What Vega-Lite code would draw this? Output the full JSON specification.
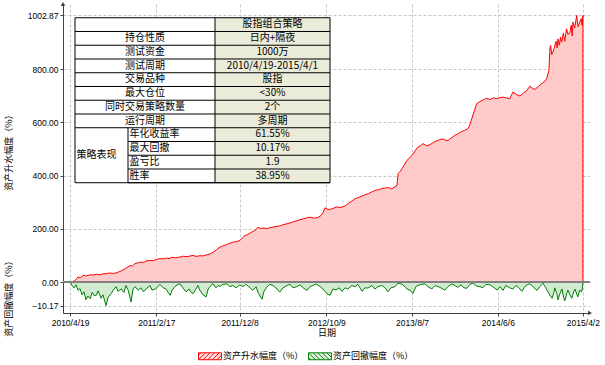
{
"$schema": "https://vega.github.io/schema/vega-lite/v6.json",
"padding": {"left": 3, "top": 2, "right": 5, "bottom": 3},
"background": "white",
"datasets": {
"up": [
{"d":"2010/04/19","v":0},{"d":"2010/04/27","v":1},{"d":"2010/05/06","v":5},{"d":"2010/05/17","v":19},{"d":"2010/05/25","v":16},{"d":"2010/06/04","v":25},{"d":"2010/06/16","v":23},{"d":"2010/06/28","v":27},{"d":"2010/07/08","v":26},{"d":"2010/07/20","v":29},{"d":"2010/08/02","v":27},{"d":"2010/08/14","v":31},{"d":"2010/08/24","v":31},{"d":"2010/09/06","v":34},{"d":"2010/09/16","v":32},{"d":"2010/09/28","v":34},{"d":"2010/10/08","v":38},{"d":"2010/10/19","v":43},{"d":"2010/10/30","v":50},{"d":"2010/11/08","v":56},{"d":"2010/11/17","v":62},{"d":"2010/11/25","v":60},{"d":"2010/12/04","v":69},{"d":"2010/12/15","v":72},{"d":"2010/12/25","v":75},{"d":"2011/01/04","v":74},{"d":"2011/01/12","v":79},{"d":"2011/01/24","v":81},{"d":"2011/02/05","v":80},{"d":"2011/02/17","v":84},{"d":"2011/02/28","v":88},{"d":"2011/03/13","v":87},{"d":"2011/03/25","v":90},{"d":"2011/04/04","v":88},{"d":"2011/04/14","v":93},{"d":"2011/04/26","v":91},{"d":"2011/05/12","v":94},{"d":"2011/05/24","v":97},{"d":"2011/06/05","v":95},{"d":"2011/06/17","v":98},{"d":"2011/06/27","v":100},{"d":"2011/07/08","v":96},{"d":"2011/07/21","v":99},{"d":"2011/08/01","v":98},{"d":"2011/08/13","v":102},{"d":"2011/08/26","v":106},{"d":"2011/09/06","v":112},{"d":"2011/09/18","v":122},{"d":"2011/09/30","v":131},{"d":"2011/10/11","v":136},{"d":"2011/10/23","v":141},{"d":"2011/11/04","v":146},{"d":"2011/11/16","v":150},{"d":"2011/11/28","v":152},{"d":"2011/12/09","v":156},{"d":"2011/12/18","v":166},{"d":"2011/12/27","v":175},{"d":"2012/01/05","v":178},{"d":"2012/01/14","v":184},{"d":"2012/01/24","v":190},{"d":"2012/02/03","v":196},{"d":"2012/02/11","v":206},{"d":"2012/02/20","v":201},{"d":"2012/03/03","v":203},{"d":"2012/03/14","v":200},{"d":"2012/03/25","v":205},{"d":"2012/04/06","v":207},{"d":"2012/04/18","v":209},{"d":"2012/04/30","v":212},{"d":"2012/05/12","v":216},{"d":"2012/05/23","v":219},{"d":"2012/06/03","v":222},{"d":"2012/06/15","v":227},{"d":"2012/06/27","v":230},{"d":"2012/07/08","v":234},{"d":"2012/07/19","v":237},{"d":"2012/07/31","v":241},{"d":"2012/08/12","v":244},{"d":"2012/08/24","v":240},{"d":"2012/09/09","v":242},{"d":"2012/09/20","v":250},{"d":"2012/09/28","v":262},{"d":"2012/10/04","v":279},{"d":"2012/10/11","v":274},{"d":"2012/10/20","v":272},{"d":"2012/11/02","v":277},{"d":"2012/11/15","v":282},{"d":"2012/11/29","v":280},{"d":"2012/12/14","v":286},{"d":"2012/12/26","v":296},{"d":"2013/01/08","v":305},{"d":"2013/01/18","v":313},{"d":"2013/01/30","v":318},{"d":"2013/02/10","v":322},{"d":"2013/02/22","v":328},{"d":"2013/03/06","v":332},{"d":"2013/03/17","v":338},{"d":"2013/03/29","v":344},{"d":"2013/04/10","v":347},{"d":"2013/04/22","v":351},{"d":"2013/05/04","v":353},{"d":"2013/05/16","v":355},{"d":"2013/05/28","v":350},{"d":"2013/06/08","v":358},{"d":"2013/06/15","v":363},{"d":"2013/06/19","v":407},{"d":"2013/06/26","v":415},{"d":"2013/07/03","v":426},{"d":"2013/07/11","v":440},{"d":"2013/07/20","v":457},{"d":"2013/07/29","v":466},{"d":"2013/08/07","v":476},{"d":"2013/08/17","v":492},{"d":"2013/08/28","v":507},{"d":"2013/09/06","v":512},{"d":"2013/09/15","v":520},{"d":"2013/09/27","v":512},{"d":"2013/10/09","v":516},{"d":"2013/10/18","v":522},{"d":"2013/10/27","v":528},{"d":"2013/11/08","v":533},{"d":"2013/11/21","v":538},{"d":"2013/12/01","v":534},{"d":"2013/12/12","v":532},{"d":"2013/12/24","v":542},{"d":"2014/01/05","v":551},{"d":"2014/01/18","v":558},{"d":"2014/01/30","v":566},{"d":"2014/02/09","v":570},{"d":"2014/02/20","v":576},{"d":"2014/02/27","v":590},{"d":"2014/03/06","v":614},{"d":"2014/03/14","v":640},{"d":"2014/03/23","v":670},{"d":"2014/04/03","v":678},{"d":"2014/04/15","v":684},{"d":"2014/04/27","v":691},{"d":"2014/05/09","v":686},{"d":"2014/05/21","v":692},{"d":"2014/06/02","v":689},{"d":"2014/06/13","v":693},{"d":"2014/06/24","v":695},{"d":"2014/07/06","v":692},{"d":"2014/07/18","v":689},{"d":"2014/07/29","v":714},{"d":"2014/08/10","v":705},{"d":"2014/08/23","v":699},{"d":"2014/09/04","v":710},{"d":"2014/09/16","v":720},{"d":"2014/09/27","v":736},{"d":"2014/10/06","v":728},{"d":"2014/10/15","v":724},{"d":"2014/10/27","v":735},{"d":"2014/11/07","v":745},{"d":"2014/11/16","v":752},{"d":"2014/11/25","v":764},{"d":"2014/12/03","v":795},{"d":"2014/12/07","v":880},{"d":"2014/12/09","v":889},{"d":"2014/12/13","v":855},{"d":"2014/12/17","v":864},{"d":"2014/12/22","v":880},{"d":"2014/12/28","v":905},{"d":"2015/01/01","v":880},{"d":"2015/01/04","v":914},{"d":"2015/01/09","v":890},{"d":"2015/01/13","v":920},{"d":"2015/01/17","v":902},{"d":"2015/01/23","v":935},{"d":"2015/01/28","v":905},{"d":"2015/02/03","v":952},{"d":"2015/02/09","v":930},{"d":"2015/02/15","v":939},{"d":"2015/02/20","v":965},{"d":"2015/02/23","v":925},{"d":"2015/02/26","v":977},{"d":"2015/03/04","v":955},{"d":"2015/03/11","v":1002},{"d":"2015/03/16","v":960},{"d":"2015/03/22","v":977},{"d":"2015/03/27","v":990},{"d":"2015/03/30","v":965},{"d":"2015/04/02","v":1002}
],
"dd": [
{"d":"2010/04/19","v":0},{"d":"2010/04/26","v":-1.5},{"d":"2010/05/03","v":-2.5},{"d":"2010/05/10","v":-1.2},{"d":"2010/05/17","v":-3.6},{"d":"2010/05/24","v":-2.8},{"d":"2010/05/31","v":-5.5},{"d":"2010/06/07","v":-4.2},{"d":"2010/06/14","v":-7.6},{"d":"2010/06/21","v":-6.0},{"d":"2010/06/29","v":-7.2},{"d":"2010/07/06","v":-4.5},{"d":"2010/07/13","v":-5.8},{"d":"2010/07/20","v":-5.7},{"d":"2010/07/27","v":-3.8},{"d":"2010/08/06","v":-7.0},{"d":"2010/08/13","v":-5.5},{"d":"2010/08/24","v":-10.17},{"d":"2010/08/31","v":-6.5},{"d":"2010/09/11","v":-5.0},{"d":"2010/09/18","v":-3.5},{"d":"2010/09/28","v":-2.0},{"d":"2010/10/05","v":-4.0},{"d":"2010/10/16","v":-3.0},{"d":"2010/10/26","v":-4.5},{"d":"2010/11/02","v":-1.5},{"d":"2010/11/10","v":-3.5},{"d":"2010/11/20","v":-8.6},{"d":"2010/11/27","v":-3.0},{"d":"2010/12/04","v":-2.0},{"d":"2010/12/15","v":-3.5},{"d":"2010/12/25","v":-2.5},{"d":"2011/01/03","v":-4.2},{"d":"2011/01/12","v":-3.0},{"d":"2011/01/26","v":-1.5},{"d":"2011/02/02","v":-3.5},{"d":"2011/02/13","v":-3.0},{"d":"2011/02/23","v":-2.0},{"d":"2011/03/02","v":-1.0},{"d":"2011/03/13","v":-2.5},{"d":"2011/03/23","v":-2.9},{"d":"2011/03/31","v":-4.5},{"d":"2011/04/07","v":-5.7},{"d":"2011/04/14","v":-3.5},{"d":"2011/04/24","v":-2.0},{"d":"2011/05/05","v":-1.0},{"d":"2011/05/12","v":-0.8},{"d":"2011/05/22","v":-2.5},{"d":"2011/06/02","v":-4.2},{"d":"2011/06/13","v":-3.0},{"d":"2011/06/20","v":-4.5},{"d":"2011/06/27","v":-5.0},{"d":"2011/07/07","v":-3.0},{"d":"2011/07/14","v":-1.5},{"d":"2011/07/21","v":-3.6},{"d":"2011/08/01","v":-5.5},{"d":"2011/08/12","v":-6.4},{"d":"2011/08/19","v":-3.0},{"d":"2011/08/29","v":-1.5},{"d":"2011/09/05","v":-0.7},{"d":"2011/09/16","v":-2.5},{"d":"2011/09/23","v":-1.5},{"d":"2011/09/30","v":-1.9},{"d":"2011/10/10","v":-1.0},{"d":"2011/10/25","v":-0.8},{"d":"2011/11/04","v":-2.0},{"d":"2011/11/15","v":-1.5},{"d":"2011/11/25","v":-2.5},{"d":"2011/12/09","v":-1.2},{"d":"2011/12/20","v":-2.0},{"d":"2011/12/30","v":-1.0},{"d":"2012/01/14","v":-2.5},{"d":"2012/01/24","v":-3.6},{"d":"2012/02/04","v":-2.0},{"d":"2012/02/11","v":-4.5},{"d":"2012/02/18","v":-6.0},{"d":"2012/02/25","v":-7.4},{"d":"2012/03/03","v":-4.0},{"d":"2012/03/14","v":-2.0},{"d":"2012/03/24","v":-1.0},{"d":"2012/04/04","v":-1.5},{"d":"2012/04/14","v":-2.5},{"d":"2012/04/21","v":-3.5},{"d":"2012/04/28","v":-4.3},{"d":"2012/05/09","v":-2.5},{"d":"2012/05/23","v":-1.5},{"d":"2012/06/03","v":-1.0},{"d":"2012/06/13","v":-2.5},{"d":"2012/06/27","v":-2.0},{"d":"2012/07/08","v":-1.2},{"d":"2012/07/19","v":-2.5},{"d":"2012/08/02","v":-3.6},{"d":"2012/08/12","v":-2.0},{"d":"2012/08/23","v":-1.5},{"d":"2012/09/02","v":-0.8},{"d":"2012/09/17","v":-2.0},{"d":"2012/09/27","v":-3.0},{"d":"2012/10/04","v":-4.0},{"d":"2012/10/11","v":-5.0},{"d":"2012/10/22","v":-5.7},{"d":"2012/11/01","v":-3.0},{"d":"2012/11/12","v":-3.4},{"d":"2012/11/23","v":-2.5},{"d":"2012/12/03","v":-4.0},{"d":"2012/12/14","v":-2.5},{"d":"2012/12/24","v":-3.0},{"d":"2013/01/07","v":-1.5},{"d":"2013/01/18","v":-2.0},{"d":"2013/01/28","v":-1.0},{"d":"2013/02/12","v":-4.0},{"d":"2013/02/22","v":-2.5},{"d":"2013/03/05","v":-2.6},{"d":"2013/03/19","v":-1.5},{"d":"2013/03/29","v":-3.0},{"d":"2013/04/09","v":-2.0},{"d":"2013/04/23","v":-1.5},{"d":"2013/05/04","v":-2.5},{"d":"2013/05/14","v":-4.2},{"d":"2013/05/25","v":-2.5},{"d":"2013/06/08","v":-2.0},{"d":"2013/06/19","v":-0.5},{"d":"2013/07/03","v":-1.0},{"d":"2013/07/13","v":-2.0},{"d":"2013/07/20","v":-3.0},{"d":"2013/07/31","v":-3.5},{"d":"2013/08/10","v":-4.9},{"d":"2013/08/21","v":-2.0},{"d":"2013/08/28","v":-1.5},{"d":"2013/09/08","v":-1.0},{"d":"2013/09/22","v":-0.8},{"d":"2013/10/02","v":-2.0},{"d":"2013/10/16","v":-3.0},{"d":"2013/10/27","v":-1.5},{"d":"2013/11/07","v":-2.0},{"d":"2013/11/17","v":-2.5},{"d":"2013/12/01","v":-3.5},{"d":"2013/12/12","v":-2.0},{"d":"2013/12/26","v":-0.8},{"d":"2014/01/06","v":-1.5},{"d":"2014/01/16","v":-2.3},{"d":"2014/01/27","v":-1.2},{"d":"2014/02/06","v":-2.5},{"d":"2014/02/17","v":-2.7},{"d":"2014/02/27","v":-1.0},{"d":"2014/03/10","v":-0.5},{"d":"2014/03/24","v":-1.8},{"d":"2014/04/04","v":-2.0},{"d":"2014/04/14","v":-2.5},{"d":"2014/04/25","v":-1.0},{"d":"2014/05/09","v":-1.2},{"d":"2014/05/19","v":-2.0},{"d":"2014/06/03","v":-3.4},{"d":"2014/06/13","v":-2.0},{"d":"2014/06/24","v":-3.6},{"d":"2014/07/04","v":-1.5},{"d":"2014/07/18","v":-2.5},{"d":"2014/07/29","v":-3.0},{"d":"2014/08/09","v":-1.5},{"d":"2014/08/19","v":-2.5},{"d":"2014/08/30","v":-4.0},{"d":"2014/09/09","v":-2.0},{"d":"2014/09/20","v":-1.0},{"d":"2014/09/27","v":-0.8},{"d":"2014/10/08","v":-2.0},{"d":"2014/10/22","v":-3.6},{"d":"2014/11/01","v":-2.0},{"d":"2014/11/12","v":-0.5},{"d":"2014/11/22","v":-2.5},{"d":"2014/11/29","v":-4.0},{"d":"2014/12/06","v":-5.6},{"d":"2014/12/14","v":-7.0},{"d":"2014/12/21","v":-4.5},{"d":"2014/12/24","v":-2.5},{"d":"2014/12/31","v":-5.0},{"d":"2015/01/04","v":-7.7},{"d":"2015/01/11","v":-5.0},{"d":"2015/01/18","v":-3.0},{"d":"2015/01/23","v":-6.0},{"d":"2015/01/28","v":-8.1},{"d":"2015/02/04","v":-5.0},{"d":"2015/02/08","v":-3.5},{"d":"2015/02/15","v":-5.5},{"d":"2015/02/22","v":-7.0},{"d":"2015/03/01","v":-4.0},{"d":"2015/03/05","v":-3.0},{"d":"2015/03/12","v":-5.5},{"d":"2015/03/15","v":-6.4},{"d":"2015/03/22","v":-3.5},{"d":"2015/03/29","v":-4.2},{"d":"2015/04/02","v":-0.5}
],
"tbl": [
{"r":1,"k":"","v":"股指组合策略"},
{"r":2,"k":"持仓性质","v":"日内+隔夜"},
{"r":3,"k":"测试资金","v":"1000万"},
{"r":4,"k":"测试周期","v":"2010/4/19-2015/4/1"},
{"r":5,"k":"交易品种","v":"股指"},
{"r":6,"k":"最大仓位","v":"<30%"},
{"r":7,"k":"同时交易策略数量","v":"2个"},
{"r":8,"k":"运行周期","v":"多周期"},
{"r":9,"g":"策略表现","k":"年化收益率","v":"61.55%"},
{"r":10,"g":"策略表现","k":"最大回撤","v":"10.17%"},
{"r":11,"g":"策略表现","k":"盈亏比","v":"1.9"},
{"r":12,"g":"策略表现","k":"胜率","v":"38.95%"}
]
},
"spacing": 0,
"bounds": "flush",
"vconcat": [
{
"width": 527,
"height": 278,
"layer": [
{
"data": {"name": "up"},
"layer": [
{
"mark": {"type": "area", "strokeWidth": 1, "fill": "#ffcaca", "fillOpacity": 1, "stroke": "#ff0000"},
"encoding": {
"x": {"field": "d", "type": "temporal",
"scale": {"domain": [{"year": 2010, "month": 3, "date": 25}, {"year": 2015, "month": 4, "date": 27}]},
"axis": {"values": [{"year":2010,"month":4,"date":19},{"year":2011,"month":2,"date":17},{"year":2011,"month":12,"date":8},{"year":2012,"month":10,"date":9},{"year":2013,"month":8,"date":7},{"year":2014,"month":6,"date":6},{"year":2015,"month":4,"date":2}],
"grid": true, "labels": false, "ticks": false, "domain": false, "title": null}},
"y": {"field": "v", "type": "quantitative",
"scale": {"domain": [0, 1045], "nice": false, "zero": false},
"axis": {"values": [200, 400, 600, 800, 1002.87], "format": ".2f", "title": "资产升水幅度（%）", "titleX": -50, "titleY": 146, "grid": true}}
}
},
{
"data": {"values": [{}]},
"mark": {"type": "point", "shape": "triangle-up", "size": 20, "filled": true, "color": "#404040", "opacity": 1},
"encoding": {
"x": {"datum": {"year": 2010, "month": 3, "date": 25}, "type": "temporal"},
"y": {"datum": 1045, "type": "quantitative"}
}
}
]
},
{
"data": {"name": "tbl"},
"layer": [
{
"data": {"values": [{}]},
"mark": {"type": "rect", "fill": "#ffffff"},
"encoding": {
"x": {"datum": 0, "type": "quantitative", "scale": {"domain": [-2.4, 103], "nice": false, "zero": false}, "axis": null},
"x2": {"datum": 28},
"y": {"datum": 0, "type": "quantitative", "scale": {"domain": [-1, 19.22], "reverse": true, "nice": false, "zero": false}, "axis": null},
"y2": {"datum": 12}
}
},
{
"data": {"values": [{}]},
"mark": {"type": "rect", "fill": "#eaecd9"},
"encoding": {
"x": {"datum": 28, "type": "quantitative", "scale": {"domain": [-2.4, 103], "nice": false, "zero": false}, "axis": null},
"x2": {"datum": 51},
"y": {"datum": 0, "type": "quantitative", "scale": {"domain": [-1, 19.22], "reverse": true, "nice": false, "zero": false}, "axis": null},
"y2": {"datum": 12}
}
},
{
"mark": {"type": "rule", "color": "#000000", "strokeWidth": 1},
"encoding": {
"x": {"datum": 10.6, "type": "quantitative", "scale": {"domain": [-2.4, 103], "nice": false, "zero": false}, "axis": null},
"x2": {"datum": 51},
"y": {"field": "r", "type": "quantitative", "scale": {"domain": [-1, 19.22], "reverse": true, "nice": false, "zero": false}, "axis": null}
}
},
{
"transform": [{"filter": "!datum.g"}],
"mark": {"type": "rule", "color": "#000000", "strokeWidth": 1},
"encoding": {
"x": {"datum": 0, "type": "quantitative", "scale": {"domain": [-2.4, 103], "nice": false, "zero": false}, "axis": null},
"x2": {"datum": 10.6},
"y": {"field": "r", "type": "quantitative", "scale": {"domain": [-1, 19.22], "reverse": true, "nice": false, "zero": false}, "axis": null}
}
},
{
"data": {"values": [{}]},
"mark": {"type": "rect", "fillOpacity": 0, "stroke": "#000000", "strokeWidth": 1},
"encoding": {
"x": {"datum": 0, "type": "quantitative", "scale": {"domain": [-2.4, 103], "nice": false, "zero": false}, "axis": null},
"x2": {"datum": 51},
"y": {"datum": 0, "type": "quantitative", "scale": {"domain": [-1, 19.22], "reverse": true, "nice": false, "zero": false}, "axis": null},
"y2": {"datum": 12}
}
},
{
"data": {"values": [{}]},
"mark": {"type": "rule", "color": "#000000", "strokeWidth": 1},
"encoding": {
"x": {"datum": 28, "type": "quantitative", "scale": {"domain": [-2.4, 103], "nice": false, "zero": false}, "axis": null},
"y": {"datum": 0, "type": "quantitative", "scale": {"domain": [-1, 19.22], "reverse": true, "nice": false, "zero": false}, "axis": null},
"y2": {"datum": 12}
}
},
{
"data": {"values": [{}]},
"mark": {"type": "rule", "color": "#000000", "strokeWidth": 1},
"encoding": {
"x": {"datum": 10.6, "type": "quantitative", "scale": {"domain": [-2.4, 103], "nice": false, "zero": false}, "axis": null},
"y": {"datum": 8, "type": "quantitative", "scale": {"domain": [-1, 19.22], "reverse": true, "nice": false, "zero": false}, "axis": null},
"y2": {"datum": 12}
}
},
{
"transform": [{"filter": "!datum.g"}],
"mark": {"type": "text", "fontSize": 10, "baseline": "middle", "dy": -7, "color": "#000000", "font": "Noto Sans CJK SC"},
"encoding": {
"x": {"datum": 14, "type": "quantitative", "scale": {"domain": [-2.4, 103], "nice": false, "zero": false}, "axis": null},
"y": {"field": "r", "type": "quantitative", "scale": {"domain": [-1, 19.22], "reverse": true, "nice": false, "zero": false}, "axis": null},
"text": {"field": "k"}
}
},
{
"transform": [{"filter": "datum.g"}],
"mark": {"type": "text", "fontSize": 10, "baseline": "middle", "align": "left", "dy": -7, "color": "#000000", "font": "Noto Sans CJK SC"},
"encoding": {
"x": {"datum": 10.9, "type": "quantitative", "scale": {"domain": [-2.4, 103], "nice": false, "zero": false}, "axis": null},
"y": {"field": "r", "type": "quantitative", "scale": {"domain": [-1, 19.22], "reverse": true, "nice": false, "zero": false}, "axis": null},
"text": {"field": "k"}
}
},
{
"mark": {"type": "text", "fontSize": 10, "baseline": "middle", "dy": -7, "color": "#000000", "font": "Noto Sans CJK SC"},
"encoding": {
"x": {"datum": 39.5, "type": "quantitative", "scale": {"domain": [-2.4, 103], "nice": false, "zero": false}, "axis": null},
"y": {"field": "r", "type": "quantitative", "scale": {"domain": [-1, 19.22], "reverse": true, "nice": false, "zero": false}, "axis": null},
"text": {"field": "v"}
}
},
{
"transform": [{"filter": "datum.g"}, {"aggregate": [{"op": "mean", "field": "r", "as": "rm"}], "groupby": ["g"]}],
"mark": {"type": "text", "fontSize": 10, "baseline": "middle", "align": "left", "dy": -7, "color": "#000000", "font": "Noto Sans CJK SC"},
"encoding": {
"x": {"datum": 0.3, "type": "quantitative", "scale": {"domain": [-2.4, 103], "nice": false, "zero": false}, "axis": null},
"y": {"field": "rm", "type": "quantitative", "scale": {"domain": [-1, 19.22], "reverse": true, "nice": false, "zero": false}, "axis": null},
"text": {"field": "g"}
}
}
]
}
],
"resolve": {"scale": {"x": "independent", "y": "independent"}}
},
{
"width": 527,
"height": 31,
"data": {"name": "dd"},
"layer": [
{
"mark": {"type": "area", "strokeWidth": 1, "fill": "#d2ead2", "fillOpacity": 1, "stroke": "#008000"},
"encoding": {
"x": {"field": "d", "type": "temporal",
"scale": {"domain": [{"year": 2010, "month": 3, "date": 25}, {"year": 2015, "month": 4, "date": 27}]},
"axis": {"values": [{"year":2010,"month":4,"date":19},{"year":2011,"month":2,"date":17},{"year":2011,"month":12,"date":8},{"year":2012,"month":10,"date":9},{"year":2013,"month":8,"date":7},{"year":2014,"month":6,"date":6},{"year":2015,"month":4,"date":2}],
"format": "%Y/%-m/%-d", "title": "日期", "grid": true, "labelFlush": false, "labelOverlap": false, "labelPadding": 2, "titlePadding": 2}},
"y": {"field": "v", "type": "quantitative",
"scale": {"domain": [-13.3, 0], "nice": false, "zero": false},
"axis": {"values": [0, -10.17], "format": ".2f", "title": "资产回撤幅度（%）", "titleX": -50, "titleY": 14, "grid": true}}
}
},
{
"mark": {"type": "rule", "color": "#808080", "strokeWidth": 1},
"encoding": {"y": {"datum": 0, "type": "quantitative"}}
},
{
"data": {"values": [{}]},
"mark": {"type": "point", "shape": "triangle-right", "size": 20, "filled": true, "color": "#404040", "opacity": 1},
"encoding": {
"x": {"datum": {"year": 2015, "month": 4, "date": 27}, "type": "temporal"},
"y": {"datum": -13.3, "type": "quantitative"}
}
},
{
"transform": [{"filter": "false"}],
"mark": {"type": "point", "filled": true, "size": 529, "strokeWidth": 1, "opacity": 1},
"encoding": {
"fill": {"datum": "资产升水幅度（%）", "type": "nominal",
"scale": {"domain": ["资产升水幅度（%）", "资产回撤幅度（%）"], "range": ["#ffe2e2", "#e4f2e4"]},
"legend": {"orient": "none", "legendX": 135, "legendY": 340, "direction": "horizontal", "title": null}},
"stroke": {"datum": "资产升水幅度（%）", "type": "nominal",
"scale": {"domain": ["资产升水幅度（%）", "资产回撤幅度（%）"], "range": ["#ff0000", "#008000"]},
"legend": {"orient": "none", "legendX": 135, "legendY": 340, "direction": "horizontal", "title": null}},
"shape": {"datum": "资产升水幅度（%）", "type": "nominal",
"scale": {"domain": ["资产升水幅度（%）", "资产回撤幅度（%）"], "range": ["M-1,-0.3H1V0.3H-1Z M-1,-0.1L-0.8,-0.3 M-1,0.3L-0.4,-0.3 M-0.6,0.3L0,-0.3 M-0.2,0.3L0.4,-0.3 M0.2,0.3L0.8,-0.3 M0.6,0.3L1,-0.1", "M-1,-0.3H1V0.3H-1Z M-1,0.1L-0.8,0.3 M-1,-0.3L-0.4,0.3 M-0.6,-0.3L0,0.3 M-0.2,-0.3L0.4,0.3 M0.2,-0.3L0.8,0.3 M0.6,-0.3L1,0.1"]},
"legend": {"orient": "none", "legendX": 135, "legendY": 340, "direction": "horizontal", "title": null}}
}
}
]
}
],
"config": {
"font": "Noto Sans CJK SC",
"view": {"stroke": null},
"axis": {
"labelFont": "Liberation Sans", "labelFontSize": 8.5, "labelColor": "#000000",
"titleFont": "Noto Sans CJK SC", "titleFontSize": 9, "titleFontWeight": "normal", "titleColor": "#000000",
"domainColor": "#404040", "tickColor": "#404040", "tickSize": 3, "labelPadding": 2,
"gridColor": "#c8c8c8", "gridDash": [3, 2], "gridWidth": 1
},
"legend": {
"symbolSize": 529, "symbolStrokeWidth": 1,
"labelFont": "Noto Sans CJK SC", "labelFontSize": 9, "labelColor": "#000000",
"labelOffset": 1, "columnPadding": 2
}
}
}
